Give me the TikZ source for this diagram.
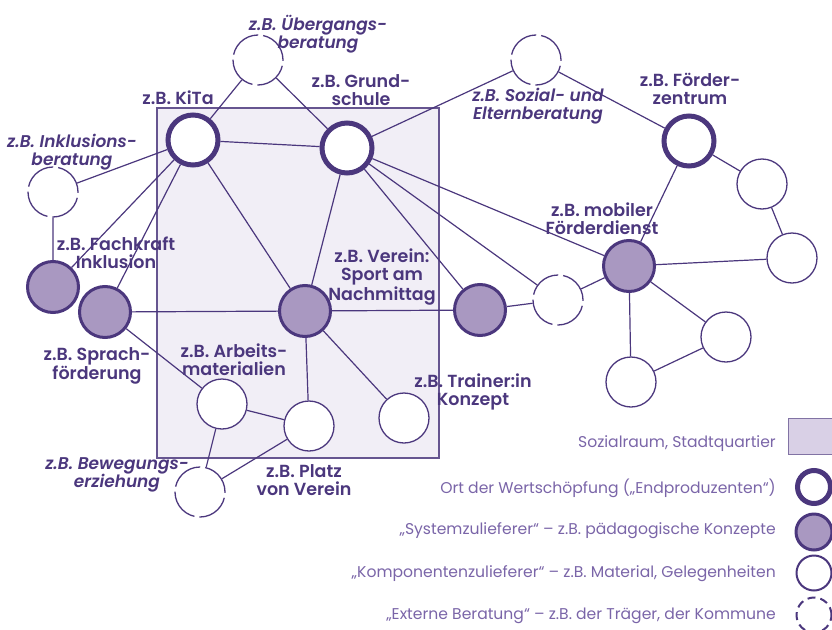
\documentclass[tikz,border=0pt]{standalone}
\usepackage{fontspec}
\setmainfont{Poppins}[BoldFont={Poppins SemiBold}, BoldItalicFont={Poppins SemiBold Italic}]
\definecolor{lila}{HTML}{4B377D}
\definecolor{lilafill}{HTML}{A998C1}
\definecolor{lilatext}{HTML}{7A65A8}
\definecolor{raumfill}{HTML}{F1EEF6}
\definecolor{legfill}{HTML}{D9D0E6}
\tikzset{%
  ring/.style     = {circle, inner sep=0pt, minimum size=50pt, fill=white},%
  ort/.style      = {ring, draw=lila, line width=5pt},%
  system/.style   = {ring, draw=lila, line width=3pt, fill=lilafill, minimum size=51pt},%
  komp/.style     = {ring, draw=lila, line width=1.3pt},%
  extern/.style   = {komp, dash pattern=on 34pt off 5pt},%
  link/.style     = {draw=lila, line width=1.2pt},%
  tag/.style      = {font=\bfseries\fontsize{17.5}{18}\selectfont, text=lila, align=center, inner sep=0pt},%
  itag/.style     = {tag, font=\bfseries\itshape\fontsize{17}{18}\selectfont},%
  legtext/.style  = {font=\fontsize{15.6}{18}\selectfont, text=lilatext, anchor=east, inner sep=0pt}%
}
\begin{document}
\begin{tikzpicture}[x=1pt,y=-1pt]
	\useasboundingbox (0,0) rectangle (832,629);
	\node (quartier) [draw=lila!85, fill=raumfill, line width=1.2pt, minimum width=282pt, minimum height=350pt, inner sep=0pt] at (298,283) {};
	% Orte der Wertschoepfung
	\node (kita) [ort] at (193,140) {};
	\node (grund) [ort] at (347,148) {};
	\node (foerder) [ort] at (689,141) {};
	% Systemzulieferer
	\node (fach) [system] at (53,287) {};
	\node (sprach) [system] at (105,312) {};
	\node (sport) [system] at (305,311) {};
	\node (trainer) [system] at (480,310) {};
	\node (mobil) [system] at (629,266) {};
	% Komponentenzulieferer
	\node (arbeit) [komp] at (222,404) {};
	\node (platz) [komp] at (309,426) {};
	\node (halle) [komp] at (404,418) {};
	\node (r1) [komp] at (762,184) {};
	\node (r2) [komp] at (792,258) {};
	\node (r3) [komp] at (726,337) {};
	\node (r4) [komp] at (631,382) {};
	% Externe Beratung
	\node (ueber) [extern] at (258,60) {};
	\node (inkl) [extern] at (53,192) {};
	\node (sozial) [extern] at (536,60) {};
	\node (extra) [extern] at (558,300) {};
	\node (beweg) [extern] at (200,492) {};
	\draw[link] (kita) -- (ueber) (ueber) -- (grund) (kita) -- (grund)
		(kita) -- (inkl) (kita) -- (fach) (kita) -- (sprach) (kita) -- (sport)
		(grund) -- (sport) (grund) -- (sozial) (grund) -- (trainer)
		(grund) -- (extra) (grund) -- (mobil) (inkl) -- (fach);
	\draw[link] (sprach) -- (sport) (sport) -- (trainer) (trainer) -- (extra)
		(extra) -- (mobil) (sozial) -- (foerder) (foerder) -- (mobil)
		(foerder) -- (r1) (r1) -- (r2) (mobil) -- (r2) (mobil) -- (r3)
		(mobil) -- (r4) (r4) -- (r3);
	\draw[link] (sprach) -- (arbeit) (sport) -- (platz) (sport) -- (halle)
		(arbeit) -- (platz) (arbeit) -- (beweg) (platz) -- (beweg);
	% Beschriftungen
	\node (t-ueber) [itag] at (318,34) {z.B. Übergangs-\\beratung};
	\node (t-kita) [tag] at (178,98) {z.B. KiTa};
	\node (t-grund) [tag] at (361,90) {z.B. Grund-\\schule};
	\node (t-inkl) [itag] at (72,152) {z.B. Inklusions-\\beratung};
	\node (t-fach) [tag] at (116,253) {z.B. Fachkraft\\Inklusion};
	\node (t-sport) [tag] at (382,277) {z.B. Verein:\\Sport am\\Nachmittag};
	\node (t-sozial) [itag] at (538,106) {z.B. Sozial- und\\Elternberatung};
	\node (t-foerder) [tag] at (690,89) {z.B. Förder-\\zentrum};
	\node (t-mobil) [tag] at (602,219) {z.B. mobiler\\Förderdienst};
	\node (t-sprach) [tag] at (97,366) {z.B. Sprach-\\förderung};
	\node (t-arbeit) [tag] at (234,360) {z.B. Arbeits-\\materialien};
	\node (t-beweg) [itag] at (117,475) {z.B. Bewegungs-\\erziehung};
	\node (t-platz) [tag] at (304,480) {z.B. Platz\\von Verein};
	\node (t-trainer) [tag] at (473,392) {z.B. Trainer:in\\Konzept};
	% Legende
	\node (leg-raum) [draw=lila!70, fill=legfill, line width=1.2pt, minimum width=46pt, minimum height=36pt, inner sep=0pt, anchor=north west] at (788,418) {};
	\node (leg-ort) [ort, minimum size=33pt] at (814,487) {};
	\node (leg-sys) [system, minimum size=36pt] at (814,532) {};
	\node (leg-komp) [komp, line width=2pt, minimum size=35pt] at (814,573) {};
	\node (leg-ext) [komp, line width=2pt, minimum size=35pt, dash pattern=on 8pt off 5pt] at (814,615) {};
	\node (l1) [legtext] at (776,444) {Sozialraum, Stadtquartier};
	\node (l2) [legtext] at (776,488) {Ort der Wertschöpfung („Endproduzenten“)};
	\node (l3) [legtext] at (776,531) {„Systemzulieferer“ – z.B. pädagogische Konzepte};
	\node (l4) [legtext] at (776,574) {„Komponentenzulieferer“ – z.B. Material, Gelegenheiten};
	\node (l5) [legtext] at (776,616) {„Externe Beratung“ – z.B. der Träger, der Kommune};
\end{tikzpicture}
\end{document}
